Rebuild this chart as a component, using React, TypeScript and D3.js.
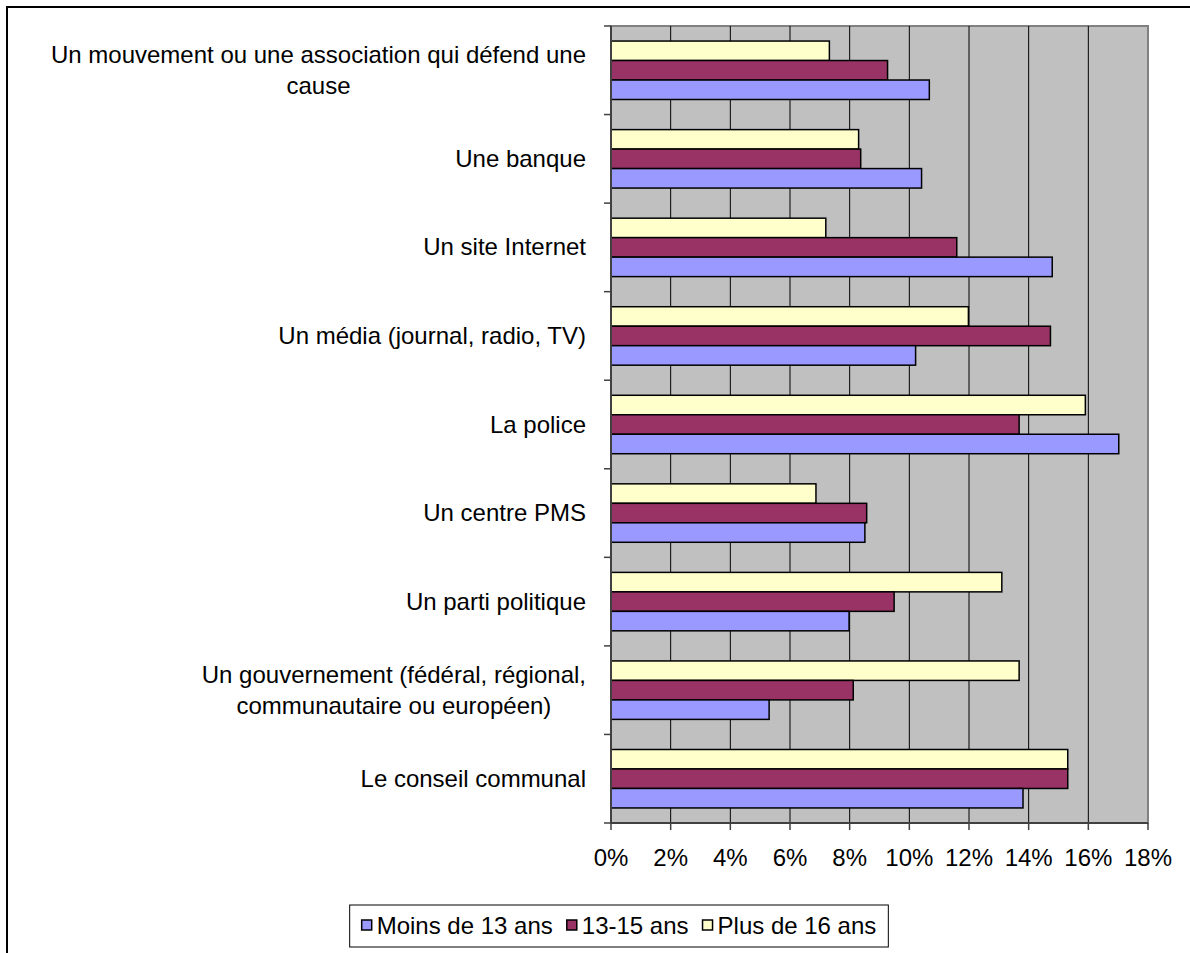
import { useEffect, useRef } from "react";
import * as d3 from "d3";

const categories = [
  "Un mouvement ou une association qui défend une\ncause",
  "Une banque",
  "Un site Internet",
  "Un média (journal, radio, TV)",
  "La police",
  "Un centre PMS",
  "Un parti politique",
  "Un gouvernement (fédéral, régional,\ncommunautaire ou européen)",
  "Le conseil communal",
];

const moins13 = [10.67, 10.41, 14.79, 10.21, 17.02, 8.51, 7.98, 5.3, 13.81];
const de13a15 = [9.27, 8.37, 11.59, 14.73, 13.68, 8.57, 9.49, 8.12, 15.31];
const plus16 = [7.32, 8.3, 7.2, 11.98, 15.9, 6.87, 13.1, 13.68, 15.31];

const seriesNames = ["Moins de 13 ans", "13-15 ans", "Plus de 16 ans"];
const seriesColors = ["#9999FF", "#993366", "#FFFFCC"];
const xTicks = [0, 2, 4, 6, 8, 10, 12, 14, 16, 18];

const FONT = "'Liberation Sans', Arial, sans-serif";

export default function App() {
  const svgRef = useRef<SVGSVGElement>(null);
  const width = 1190;
  const height = 953;

  useEffect(() => {
    if (!svgRef.current) return;
    const svg = d3.select(svgRef.current);
    svg.selectAll("*").remove();

    const plot = { left: 611, right: 1148, top: 26, bottom: 823 };

    // outer chart frame (runs off the page on the right and bottom)
    svg.append("rect")
      .attr("x", 7).attr("y", 7)
      .attr("width", 1220).attr("height", 1000)
      .attr("fill", "white")
      .attr("stroke", "black")
      .attr("stroke-width", 2);

    const x = d3.scaleLinear().domain([0, 18]).range([plot.left, plot.right]);
    const y = d3.scaleBand<string>()
      .domain(categories)
      .range([plot.top, plot.bottom])
      .paddingInner(0.34)
      .paddingOuter(0.17);

    // series order inside a group, top to bottom
    const groupOrder = [2, 1, 0];
    const seriesData = [moins13, de13a15, plus16];
    const inner = d3.scaleBand<number>()
      .domain(groupOrder)
      .range([0, y.bandwidth()]);

    // plot background
    svg.append("rect")
      .attr("x", plot.left).attr("y", plot.top)
      .attr("width", plot.right - plot.left)
      .attr("height", plot.bottom - plot.top)
      .attr("fill", "#C0C0C0")
      .attr("stroke", "#808080")
      .attr("stroke-width", 2);

    // vertical gridlines
    svg.append("g")
      .selectAll("line")
      .data(xTicks.slice(1, -1))
      .join("line")
      .attr("x1", d => x(d)).attr("x2", d => x(d))
      .attr("y1", plot.top).attr("y2", plot.bottom)
      .attr("stroke", "#000")
      .attr("stroke-width", 1);

    // bars
    categories.forEach((c, i) => {
      groupOrder.forEach(s => {
        svg.append("rect")
          .attr("x", x(0))
          .attr("y", (y(c) as number) + (inner(s) as number))
          .attr("width", x(seriesData[s][i]) - x(0))
          .attr("height", inner.bandwidth())
          .attr("fill", seriesColors[s])
          .attr("stroke", "#000")
          .attr("stroke-width", 1.5);
      });
    });

    // left axis with category ticks
    svg.append("line")
      .attr("x1", plot.left).attr("x2", plot.left)
      .attr("y1", plot.top).attr("y2", plot.bottom)
      .attr("stroke", "#404040").attr("stroke-width", 2);
    const step = y.step();
    svg.append("g")
      .selectAll("line")
      .data(d3.range(categories.length + 1))
      .join("line")
      .attr("x1", plot.left - 7).attr("x2", plot.left)
      .attr("y1", i => plot.top + i * step).attr("y2", i => plot.top + i * step)
      .attr("stroke", "#404040").attr("stroke-width", 1.5);

    // bottom axis
    svg.append("line")
      .attr("x1", plot.left).attr("x2", plot.right)
      .attr("y1", plot.bottom).attr("y2", plot.bottom)
      .attr("stroke", "#404040").attr("stroke-width", 2);
    svg.append("g")
      .selectAll("line")
      .data(xTicks)
      .join("line")
      .attr("x1", d => x(d)).attr("x2", d => x(d))
      .attr("y1", plot.bottom).attr("y2", plot.bottom + 7)
      .attr("stroke", "#404040").attr("stroke-width", 1.5);

    svg.append("g")
      .selectAll("text")
      .data(xTicks)
      .join("text")
      .attr("x", d => x(d))
      .attr("y", 866)
      .attr("text-anchor", "middle")
      .attr("font-family", FONT)
      .attr("font-size", 24)
      .text(d => `${d}%`);

    // category labels: block right-aligned, lines centered within the block
    const labelRight = 586;
    const lineH = 31;
    categories.forEach(c => {
      const lines = c.split("\n");
      const cy = (y(c) as number) + y.bandwidth() / 2;
      const t = svg.append("text")
        .attr("font-family", FONT)
        .attr("font-size", 24)
        .attr("text-anchor", "middle");
      const spans = lines.map((ln, k) =>
        t.append("tspan")
          .attr("y", cy + (k - (lines.length - 1) / 2) * lineH + 8)
          .text(ln)
      );
      const w = d3.max(spans, sp => (sp.node() as SVGTSpanElement).getComputedTextLength()) || 0;
      spans.forEach(sp => sp.attr("x", labelRight - w / 2));
    });

    // legend
    const legendOrder = [0, 1, 2];
    const lg = svg.append("g");
    let cx = 0;
    legendOrder.forEach((s, k) => {
      lg.append("rect")
        .attr("x", cx).attr("y", -6)
        .attr("width", 10).attr("height", 10)
        .attr("fill", seriesColors[s])
        .attr("stroke", "#000").attr("stroke-width", 1.5);
      const t = lg.append("text")
        .attr("x", cx + 15).attr("y", 8)
        .attr("font-family", FONT)
        .attr("font-size", 24)
        .text(seriesNames[s]);
      cx += 15 + (t.node() as SVGTextElement).getComputedTextLength() + (k < 2 ? 14 : 0);
    });
    const boxW = cx + 24;
    const boxX = 619 - boxW / 2;
    lg.attr("transform", `translate(${boxX + 12},926)`);
    svg.insert("rect", "g:last-of-type")
      .attr("x", boxX).attr("y", 905)
      .attr("width", boxW).attr("height", 42)
      .attr("fill", "white")
      .attr("stroke", "#000").attr("stroke-width", 1);
  }, []);

  return (
    <div style={{ position: "absolute", left: 0, top: 0 }}>
      <svg ref={svgRef} width={width} height={height} viewBox={`0 0 ${width} ${height}`} />
    </div>
  );
}
